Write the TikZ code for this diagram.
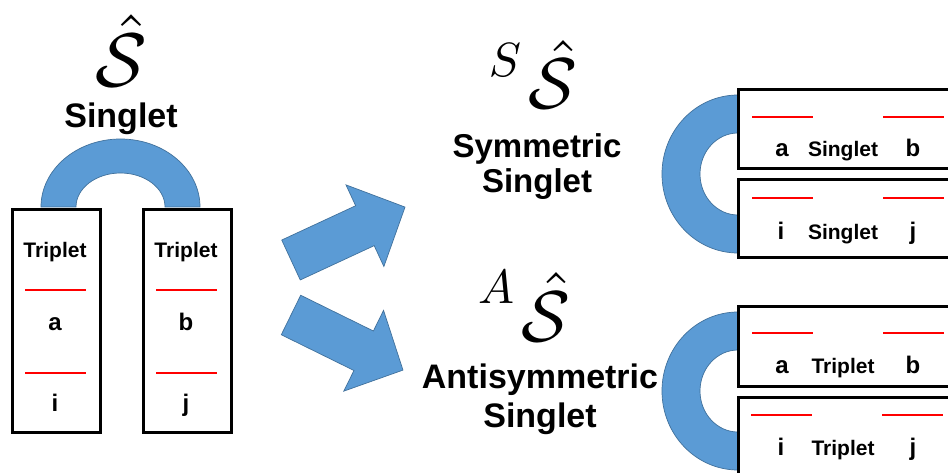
\documentclass[tikz,border=0pt]{standalone}
\usepackage{graphicx}
\usepackage{fontspec}
\setmainfont{Liberation Sans}
\definecolor{officeblue}{HTML}{5B9BD5}
\definecolor{blueedge}{HTML}{41719C}
\newcommand{\bigmath}[2]{\scalebox{#1}{$#2$}}
\tikzset{
  blueshape/.style={fill=officeblue, draw=blueedge, line width=0.7pt},
  boxstyle/.style={draw=black, line width=3pt, fill=white, inner sep=0pt},
  redline/.style={draw=red, line width=2pt},
  bigtxt/.style={font=\bfseries\fontsize{34}{40}\selectfont, inner sep=0pt, anchor=base},
  midtxt/.style={font=\bfseries\fontsize{21}{24}\selectfont, inner sep=0pt, anchor=base},
  lettxt/.style={font=\bfseries\fontsize{24}{28}\selectfont, inner sep=0pt, anchor=base},
  mathtxt/.style={inner sep=0pt, anchor=base},
  bigarrow/.style={blueshape},
}
\begin{document}
\begin{tikzpicture}[x=1pt,y=-1pt]
\clip (0,0) rectangle (948,473);
\fill[white] (0,0) rectangle (948,473);

% ---- left part ----
\node[mathtxt] (shat) at (121,87) {\bigmath{7.6}{\hat{\mathcal{S}}}};
\node[bigtxt] (singtop) at (121,128) {Singlet};

\draw[blueshape] (41,207) arc[start angle=180, end angle=360, x radius=79.5, y radius=68]
  -- (165,207) arc[start angle=0, end angle=-180, x radius=44.5, y radius=34] -- cycle;

\node[boxstyle, minimum width=88pt, minimum height=222pt] (boxL) at (56,321) {};
\node[boxstyle, minimum width=88pt, minimum height=222pt] (boxR) at (187,321) {};

\node[midtxt] (tl) at (55,258) {Triplet};
\node[midtxt] (tr) at (186,258) {Triplet};
\draw[redline] (25,290) -- (86,290);
\draw[redline] (25,373) -- (86,373);
\draw[redline] (156,290) -- (217,290);
\draw[redline] (156,373) -- (217,373);
\node[lettxt] (la) at (55,330) {a};
\node[lettxt] (li) at (55,411) {i};
\node[lettxt] (lb) at (186,330) {b};
\node[lettxt] (lj) at (186,411) {j};

% ---- arrows ----
\draw[bigarrow, shift={(291,260)}, rotate=24.9]
  (0,22) -- (81.5,22) -- (81.5,45) -- (125.7,0) -- (81.5,-45) -- (81.5,-22) -- (0,-22) -- cycle;
\draw[bigarrow, shift={(291,315)}, rotate=-26.2]
  (0,22) -- (81,22) -- (81,45) -- (124.8,0) -- (81,-45) -- (81,-22) -- (0,-22) -- cycle;

% ---- middle labels ----
\node[mathtxt] (preS) at (505,77) {\bigmath{4.8}{S}};
\node[mathtxt] (symS) at (553,109) {\bigmath{7.2}{\hat{\mathcal{S}}}};
\node[bigtxt, font=\bfseries\fontsize{33}{40}\selectfont] (sym1) at (537,158) {Symmetric};
\node[bigtxt, font=\bfseries\fontsize{33}{40}\selectfont] (sym2) at (537,193) {Singlet};

\node[mathtxt] (preA) at (496,303) {\bigmath{4.8}{A}};
\node[mathtxt] (asymS) at (546,341) {\bigmath{7.2}{\hat{\mathcal{S}}}};
\node[bigtxt] (asym1) at (540,388) {Antisymmetric};
\node[bigtxt] (asym2) at (540,427) {Singlet};

% ---- right upper ----
\draw[blueshape] (738,95) arc[start angle=270, end angle=90, x radius=76, y radius=79]
  -- (738,215) arc[start angle=90, end angle=270, x radius=38, y radius=41] -- cycle;
\node[boxstyle, minimum width=222pt, minimum height=79pt] (rb1) at (849,129.5) {};
\node[boxstyle, minimum width=222pt, minimum height=78pt] (rb2) at (849,219) {};
\draw[redline] (752,117) -- (813,117);
\draw[redline] (883,117) -- (944,117);
\draw[redline] (752,198) -- (813,198);
\draw[redline] (883,198) -- (944,198);
\node[lettxt] (ra) at (782,157) {a};
\node[midtxt] (rs1) at (843,157) {Singlet};
\node[lettxt] (rb) at (913,157) {b};
\node[lettxt] (ri) at (781,240) {i};
\node[midtxt] (rs2) at (843,240) {Singlet};
\node[lettxt] (rj) at (913,240) {j};

% ---- right lower ----
\draw[blueshape] (738,312) arc[start angle=270, end angle=90, x radius=76, y radius=79]
  -- (738,432) arc[start angle=90, end angle=270, x radius=38, y radius=41] -- cycle;
\node[boxstyle, minimum width=222pt, minimum height=80pt] (rb3) at (849,346) {};
\node[boxstyle, minimum width=222pt, minimum height=93pt] (rb4) at (849,443.5) {};
\draw[redline] (752,333) -- (813,333);
\draw[redline] (883,333) -- (944,333);
\draw[redline] (751,415) -- (812,415);
\draw[redline] (882,415) -- (943,415);
\node[lettxt] (rta) at (782,373) {a};
\node[midtxt] (rt1) at (843,373) {Triplet};
\node[lettxt] (rtb) at (913,373) {b};
\node[lettxt] (rti) at (781,455) {i};
\node[midtxt] (rt2) at (843,455) {Triplet};
\node[lettxt] (rtj) at (913,455) {j};
\end{tikzpicture}
\end{document}
